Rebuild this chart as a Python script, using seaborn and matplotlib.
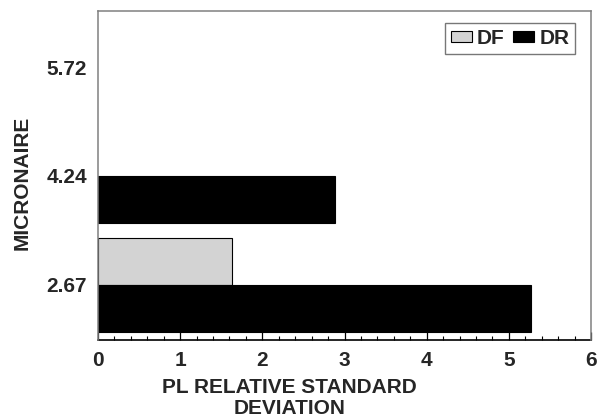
import matplotlib
matplotlib.use("Agg")
import matplotlib.pyplot as plt
import seaborn as sns
import pandas as pd
import numpy as np
from matplotlib.ticker import MultipleLocator
from matplotlib.patches import Patch

# ---- data ----
micronaire = ["2.67", "4.24", "5.72"]
df_values = [1.63, np.nan, np.nan]
dr_values = [5.27, 2.88, np.nan]
series_names = ["DF", "DR"]
x_ticks = [0, 1, 2, 3, 4, 5, 6]

rows = []
for m, v in zip(micronaire, df_values):
    rows.append({"micronaire": m, "series": "DF", "value": v})
for m, v in zip(micronaire, dr_values):
    rows.append({"micronaire": m, "series": "DR", "value": v})
data = pd.DataFrame(rows)

sns.set_style("white")
plt.rcParams["font.family"] = ["Liberation Sans", "DejaVu Sans"]
plt.rcParams["font.weight"] = "bold"
FS = 15

fig = plt.figure(figsize=(6.02, 4.19), dpi=100)
ax = fig.add_axes([98 / 602, 79 / 419, 493 / 602, 329 / 419])

colors = {"DF": "#d3d3d3", "DR": "#000000"}
sns.barplot(data=data, x="value", y="micronaire", hue="series",
            order=micronaire[::-1], hue_order=series_names,
            palette=colors, orient="h", width=0.862, errorbar=None,
            edgecolor="black", linewidth=0.8, ax=ax, legend=False)

ax.set_xlim(0, 6)
ax.set_ylim(2.505, -0.514)
ax.set_xticks(x_ticks)
ax.xaxis.set_minor_locator(MultipleLocator(0.2))
ax.tick_params(axis="x", which="major", direction="in", length=5.8, width=0.9,
               color="black", labelsize=FS, pad=8, bottom=True, top=False)
ax.tick_params(axis="x", which="minor", direction="in", length=3.0, width=0.8,
               color="black", bottom=True, top=False)
ax.tick_params(axis="y", which="both", length=0, labelsize=FS, pad=8)
for lab in ax.get_xticklabels() + ax.get_yticklabels():
    lab.set_fontweight("bold")

for side in ["left", "top", "right"]:
    ax.spines[side].set_color("#808080")
    ax.spines[side].set_linewidth(1.1)
    ax.spines[side].set_zorder(5)
ax.spines["bottom"].set_color("black")
ax.spines["bottom"].set_linewidth(1.2)

ax.set_xlabel("PL RELATIVE STANDARD\nDEVIATION", fontsize=FS, fontweight="bold",
              linespacing=1.15)
ax.xaxis.set_label_coords(0.389, -0.115)
ax.set_ylabel("MICRONAIRE", fontsize=FS, fontweight="bold")
ax.yaxis.set_label_coords(-0.134, 0.477)

handles = [Patch(facecolor=colors[s], edgecolor="black", linewidth=0.8, label=s)
           for s in series_names]
leg = ax.legend(handles=handles, loc="upper right", bbox_to_anchor=(0.9675, 0.9635),
                borderaxespad=0, ncol=2, frameon=True, fancybox=False,
                handlelength=1.0, handleheight=0.5, handletextpad=0.25,
                columnspacing=0.4, borderpad=0.28,
                prop={"weight": "bold", "size": FS})
for t in leg.get_texts():
    t.set_fontweight("bold")
leg.get_frame().set_edgecolor("#555555")
leg.get_frame().set_linewidth(1.0)

fig.savefig("out.png", dpi=100)
